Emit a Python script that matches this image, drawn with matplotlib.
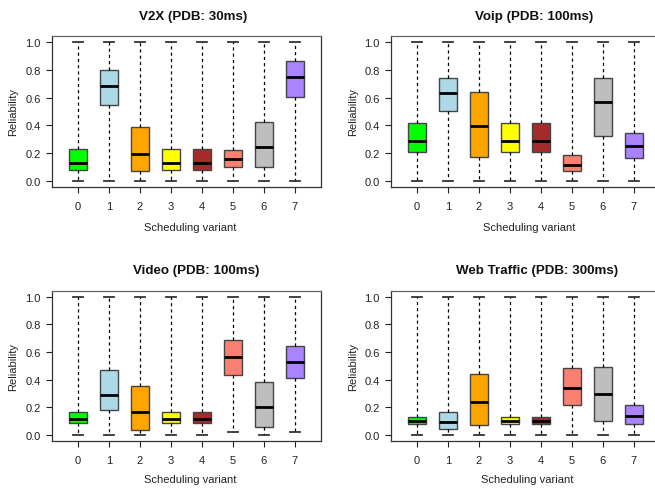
import matplotlib
matplotlib.use("Agg")
import matplotlib.pyplot as plt

plt.rcParams['font.family'] = ['Liberation Sans', 'DejaVu Sans']

variants = [0, 1, 2, 3, 4, 5, 6, 7]
colors = ['#00FF00', '#ADD8E6', '#FFA500', '#FFFF00', '#A52A2A', '#FA8072', '#BEBEBE', '#AB82FF']

titles = ['V2X (PDB: 30ms)', 'Voip (PDB: 100ms)', 'Video (PDB: 100ms)', 'Web Traffic (PDB: 300ms)']

# per panel: q1, median, q3, whisker low, whisker high
v2x_q1 = [0.076, 0.544, 0.074, 0.076, 0.076, 0.098, 0.100, 0.606]
v2x_med = [0.129, 0.683, 0.196, 0.129, 0.129, 0.158, 0.246, 0.745]
v2x_q3 = [0.229, 0.800, 0.389, 0.229, 0.229, 0.222, 0.427, 0.864]
v2x_lo = [0.0] * 8
v2x_hi = [1.0] * 8

voip_q1 = [0.210, 0.506, 0.174, 0.210, 0.210, 0.069, 0.322, 0.167]
voip_med = [0.289, 0.630, 0.396, 0.289, 0.289, 0.117, 0.568, 0.253]
voip_q3 = [0.415, 0.742, 0.637, 0.415, 0.415, 0.184, 0.742, 0.346]
voip_lo = [0.0] * 8
voip_hi = [1.0] * 8

video_q1 = [0.084, 0.184, 0.038, 0.084, 0.084, 0.435, 0.060, 0.411]
video_med = [0.117, 0.292, 0.167, 0.117, 0.117, 0.565, 0.203, 0.531]
video_q3 = [0.163, 0.469, 0.352, 0.163, 0.163, 0.687, 0.380, 0.641]
video_lo = [0.0, 0.0, 0.0, 0.0, 0.0, 0.019, 0.0, 0.024]
video_hi = [1.0] * 8

web_q1 = [0.079, 0.043, 0.072, 0.079, 0.079, 0.218, 0.098, 0.081]
web_med = [0.105, 0.091, 0.242, 0.105, 0.105, 0.340, 0.294, 0.139]
web_q3 = [0.134, 0.167, 0.443, 0.134, 0.134, 0.481, 0.493, 0.220]
web_lo = [0.0] * 8
web_hi = [1.0] * 8

panels = [
    (v2x_q1, v2x_med, v2x_q3, v2x_lo, v2x_hi),
    (voip_q1, voip_med, voip_q3, voip_lo, voip_hi),
    (video_q1, video_med, video_q3, video_lo, video_hi),
    (web_q1, web_med, web_q3, web_lo, web_hi),
]

W, H = 655, 489
fig = plt.figure(figsize=(W / 100, H / 100), dpi=100)

# axes boxes in pixels: left, right, top, bottom
boxes = [(52, 321, 37, 188), (391, 660, 37, 188), (52, 321, 291.7, 442), (391, 660, 291.7, 442)]
title_pos = [(193, 17), (534.5, 17), (195.8, 270.7), (537.5, 270.7)]
xlab_pos = [(190.5, 228), (529.5, 228), (190.5, 480.5), (527.5, 480.5)]
ylab_x = [13, 353, 13, 353]

edge = '#444444'
for i, (q1, med, q3, lo, hi) in enumerate(panels):
    l, r, t, b = boxes[i]
    ax = fig.add_axes([l / W, 1 - b / H, (r - l) / W, (b - t) / H])
    stats = []
    for k in range(len(variants)):
        stats.append(dict(q1=q1[k], med=med[k], q3=q3[k], whislo=lo[k], whishi=hi[k], fliers=[]))
    bp = ax.bxp(stats, positions=variants, widths=0.6, patch_artist=True,
                showfliers=False, capwidths=0.34,
                boxprops=dict(edgecolor=edge, linewidth=1.0),
                medianprops=dict(color='black', linewidth=2.0),
                whiskerprops=dict(color='black', linewidth=0.9, linestyle=(0, (2.5, 2.5))),
                capprops=dict(color='#333333', linewidth=1.3))
    for patch, c in zip(bp['boxes'], colors):
        patch.set_facecolor(c)
    ax.set_xlim(-0.84, 7.84)
    ax.set_ylim(-0.043, 1.043)
    ax.set_yticks([0.0, 0.2, 0.4, 0.6, 0.8, 1.0])
    ax.set_yticklabels(['0.0', '0.2', '0.4', '0.6', '0.8', '1.0'])
    ax.set_xticks(variants)
    ax.set_xticklabels([str(v) for v in variants])
    ax.tick_params(axis='both', direction='out', length=4, width=0.8, colors='#222222', labelsize=8)
    ax.tick_params(axis='x', pad=6)
    ax.tick_params(axis='y', pad=4)
    for s in ax.spines.values():
        s.set_color('#333333')
        s.set_linewidth(0.9)
    ax.spines['top'].set_color('#666666')
    fig.text(title_pos[i][0] / W, 1 - title_pos[i][1] / H, titles[i], ha='center', va='center',
             fontsize=9.6, fontweight='bold', color='#111111')
    fig.text(xlab_pos[i][0] / W, 1 - xlab_pos[i][1] / H, 'Scheduling variant', ha='center', va='center',
             fontsize=8, color='#222222')
    fig.text(ylab_x[i] / W, 1 - ((t + b) / 2) / H, 'Reliability', ha='center', va='center',
             rotation=90, fontsize=8, color='#222222')

fig.savefig('out.png', dpi=100)
